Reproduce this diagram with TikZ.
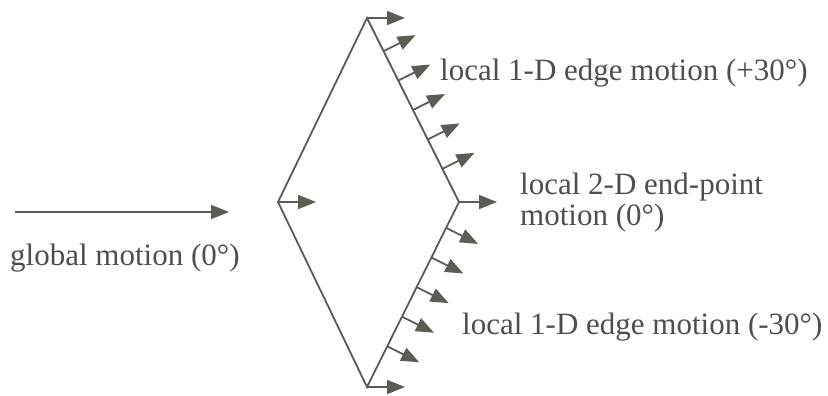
\documentclass[tikz,border=0pt]{standalone}
\usepackage{fontspec}
\setmainfont{Liberation Serif}
\usepackage{tikz}
\usetikzlibrary{arrows.meta,calc}
\definecolor{inkgray}{RGB}{92,92,84}
\definecolor{txtgray}{RGB}{78,78,74}

\begin{document}
\begin{tikzpicture}[x=1pt,y=-1pt,
  vec/.style={inkgray,line width=1.8pt,-{Triangle[length=18pt,width=14pt]}},
  lbl/.style={txtgray,anchor=west,inner sep=0pt,align=left,
    font=\fontsize{31}{31}\selectfont}]
  % pixel frame, y grows downward
  \useasboundingbox (0,0) rectangle (828,396);
  % global motion arrow and its label
  \coordinate (gfrom) at (15,212);
  \coordinate (gto) at (229,212);
  \draw[vec] (gfrom) -- (gto);
  \node[lbl] (glbl) at (10,258) {global motion (0°)};
  % diamond outline: top, left, bottom, right corners
  \coordinate (top) at (367,18);
  \coordinate (left) at (278,202);
  \coordinate (bot) at (367,387);
  \coordinate (right) at (459,202);
  \draw[inkgray,line width=1.8pt] (top) -- (left) -- (bot) -- (right) -- cycle;
  % corner arrows (2-D motion, 0 deg)
  \foreach \c in {top,left,right,bot}{
    \draw[vec] (\c) -- ++(38,0);}
  % edge normals, upper right edge (+30)
  \foreach \t in {0.18,0.34,0.5,0.66,0.82}{
    \draw[vec] ($(top)!\t!(right)$) -- ++(32,-16);}
  % edge normals, lower right edge (-30)
  \foreach \t in {0.14,0.30,0.46,0.62,0.78}{
    \draw[vec] ($(right)!\t!(bot)$) -- ++(32,16);}
  % labels
  \node[lbl] (uplbl) at (440,73) {local 1-D edge motion (+30°)};
  \node[lbl] (endlbl) at (520,203) {local 2-D end-point\\motion (0°)};
  \node[lbl] (lowlbl) at (462,327) {local 1-D edge motion (-30°)};
\end{tikzpicture}
\end{document}
